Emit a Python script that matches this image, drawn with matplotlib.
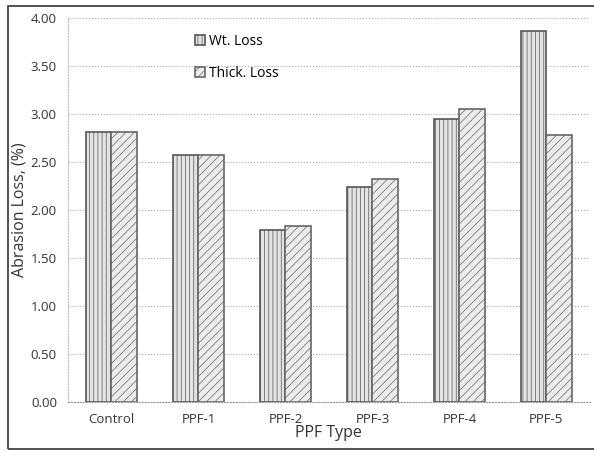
import numpy as np
import matplotlib.pyplot as plt
from matplotlib.patches import Rectangle

plt.rcParams['font.family'] = ['Open Sans', 'DejaVu Sans']
plt.rcParams['hatch.linewidth'] = 0.5

categories = ['Control', 'PPF-1', 'PPF-2', 'PPF-3', 'PPF-4', 'PPF-5']
wt_loss = [2.81, 2.57, 1.79, 2.24, 2.94, 3.86]
thick_loss = [2.81, 2.57, 1.83, 2.32, 3.05, 2.78]

x = np.arange(len(categories))
width = 0.29

fig = plt.figure(figsize=(5.94, 4.51), dpi=100)
ax = fig.add_axes([0.1145, 0.109, 0.8785, 0.852])

ax.bar(x - width / 2, wt_loss, width=width, facecolor='#e4e4e4',
       edgecolor='#555555', hatch='||||', linewidth=1.2, label='Wt. Loss')
ax.bar(x + width / 2, thick_loss, width=width, facecolor='#ececec',
       edgecolor='#666666', hatch='////', linewidth=1.2, label='Thick. Loss')

ax.set_ylim(0, 4.0)
ax.set_xlim(-0.5, len(categories) - 0.5)
ax.set_yticks(np.arange(0, 4.01, 0.5))
ax.set_yticklabels([f'{v:.2f}' for v in np.arange(0, 4.01, 0.5)])
ax.set_xticks(x)
ax.set_xticklabels(categories)
ax.tick_params(axis='both', length=0, labelsize=9.5, colors='#333333', pad=8)
ax.grid(axis='y', color='#aaaaaa', linestyle=':', linewidth=0.8)
ax.set_axisbelow(True)
for side in ['top', 'right']:
    ax.spines[side].set_visible(False)
ax.spines['left'].set_color('#bbbbbb')
ax.spines['left'].set_linestyle(':')
ax.spines['bottom'].set_color('#999999')
ax.spines['bottom'].set_linestyle(':')

ax.set_ylabel('Abrasion Loss, (%)', fontsize=11.5, color='#333333', labelpad=2)
ax.set_xlabel('PPF Type', fontsize=11.5, color='#333333', labelpad=-1)

ax.legend(loc='upper left', bbox_to_anchor=(0.22, 0.99), frameon=False,
          fontsize=10, handlelength=0.7, handleheight=0.7, labelspacing=1.2,
          handletextpad=0.3)

# outer chart frame
fig.patches.append(Rectangle((8 / 594, 2 / 451), 0.99, 443 / 451,
                             transform=fig.transFigure, fill=False,
                             edgecolor='#444444', linewidth=1.3))

fig.savefig('out.png', dpi=100)
